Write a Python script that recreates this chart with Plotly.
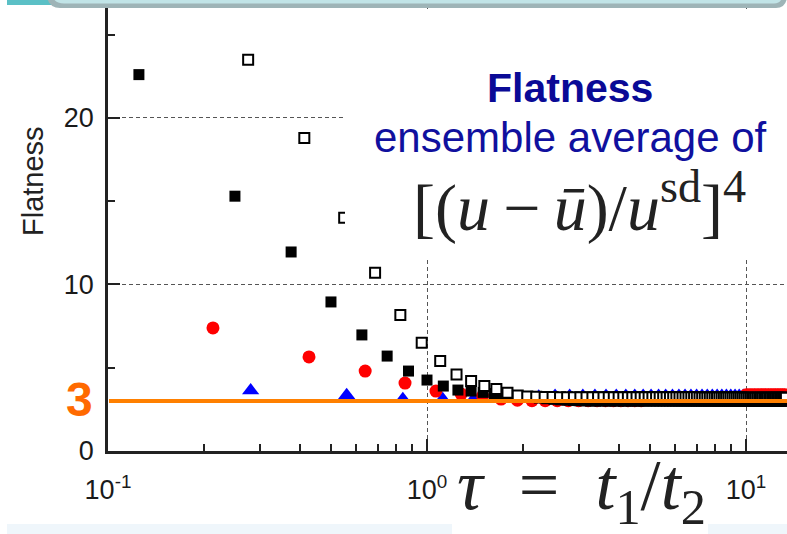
import plotly.graph_objects as go

# ---------------- data ----------------
# sampling steps of tau for each series (tau_k = step * k)
STEP_FILLED, K_FILLED = 0.125, range(1, 108)
STEP_OPEN, K_OPEN = 0.1375, range(2, 98)
STEP_RED, K_RED = 0.21333, range(1, 63)
STEP_BLUE, K_BLUE = 0.28, range(1, 48)

filled_y = [
    22.6, 15.3, 11.95, 8.95, 6.97, 5.7, 4.8, 4.26, 3.9, 3.66,
    3.6, 3.52, 3.45, 3.38, 3.32, 3.27, 3.22, 3.18, 3.14, 3.1,
    3.07, 3.05, 3.03, 3.02, 3.01, 3.0, 3.0, 3.0, 3.0, 3.0,
    3.0, 3.0, 3.0, 3.0, 3.0, 3.0, 3.0, 3.0, 3.0, 3.0,
    3.0, 3.0, 3.0, 3.0, 3.0, 3.0, 3.0, 3.0, 3.0, 3.0,
    3.0, 3.0, 3.0, 3.0, 3.0, 3.0, 3.0, 3.0, 3.0, 3.0,
    3.0, 3.0, 3.0, 3.0, 3.0, 3.0, 3.0, 3.0, 3.0, 3.0,
    3.0, 3.0, 3.0, 3.0, 3.0, 3.0, 3.0, 3.0, 3.0, 3.0,
    3.0, 3.0, 3.0, 3.0, 3.0, 3.0, 3.0, 3.0, 3.0, 3.0,
    3.0, 3.0, 3.0, 3.0, 3.0, 3.0, 3.0, 3.0, 3.0, 3.0,
    3.0, 3.0, 3.0, 3.0, 3.0, 3.0, 3.0,
]
open_y = [
    23.5, 18.8, 14.0, 10.7, 8.17, 6.5, 5.4, 4.6, 4.2, 3.9,
    3.72, 3.5, 3.34, 3.27, 3.25, 3.24, 3.24, 3.23, 3.23, 3.23,
    3.22, 3.22, 3.22, 3.22, 3.22, 3.22, 3.22, 3.22, 3.22, 3.22,
    3.22, 3.22, 3.22, 3.22, 3.22, 3.22, 3.22, 3.22, 3.22, 3.22,
    3.22, 3.22, 3.22, 3.22, 3.22, 3.22, 3.22, 3.22, 3.22, 3.22,
    3.21, 3.21, 3.21, 3.21, 3.21, 3.21, 3.21, 3.21, 3.21, 3.21,
    3.21, 3.21, 3.21, 3.21, 3.21, 3.21, 3.21, 3.21, 3.21, 3.21,
    3.2, 3.2, 3.2, 3.2, 3.2, 3.2, 3.2, 3.2, 3.2, 3.2,
    3.2, 3.2, 3.2, 3.2, 3.2, 3.2, 3.2, 3.2, 3.2, 3.2,
    3.2, 3.2, 3.2, 3.2, 3.2, 3.2,
]
red_y = [
    7.39, 5.65, 4.8, 4.08, 3.6, 3.42, 3.3, 3.12, 3.05, 3.02,
    3.02, 3.02, 3.02, 3.02, 3.02, 3.02, 3.02, 3.02, 3.02, 3.02,
    3.02, 3.02, 3.1, 3.1, 3.1, 3.1, 3.1, 3.1, 3.1, 3.1,
    3.1, 3.1, 3.1, 3.1, 3.1, 3.1, 3.1, 3.1, 3.1, 3.1,
    3.1, 3.1, 3.1, 3.1, 3.1, 3.1, 3.38, 3.38, 3.38, 3.38,
    3.38, 3.38, 3.38, 3.38, 3.38, 3.38, 3.38, 3.38, 3.38, 3.38,
    3.38, 3.38,
]
blue_y = [
    3.63, 3.35, 3.1, 3.1, 3.1, 3.1, 3.15, 3.25, 3.3, 3.3,
    3.3, 3.3, 3.3, 3.3, 3.3, 3.3, 3.3, 3.3, 3.3, 3.3,
    3.3, 3.3, 3.3, 3.3, 3.3, 3.3, 3.3, 3.3, 3.3, 3.3,
    3.3, 3.3, 3.3, 3.3, 3.3, 3.3, 3.3, 3.3, 3.3, 3.3,
    3.3, 3.3, 3.3, 3.3, 3.3, 3.3, 3.3,
]
GAUSSIAN_FLATNESS = 3

x_tickvals = [0.1, 1, 10]
x_ticktext = ["10<sup>-1</sup>", "10<sup>0</sup>", "10<sup>1</sup>"]
x_minor = [0.2, 0.3, 0.4, 0.5, 0.6, 0.7, 0.8, 0.9, 2, 3, 4, 5, 6, 7, 8, 9]
y_tickvals = [0, 10, 20]
y_ticktext = ["0", "10", "20"]
y_minor = [5, 15, 25]

tau_filled = [round(STEP_FILLED * k, 5) for k in K_FILLED]
tau_open = [round(STEP_OPEN * k, 5) for k in K_OPEN]
tau_red = [round(STEP_RED * k, 5) for k in K_RED]
tau_blue = [round(STEP_BLUE * k, 5) for k in K_BLUE]

# ---------------- figure ----------------
W, H = 787, 534
def px(x):
    return x / W
def py(y):
    return 1 - y / H

SANS = "Liberation Sans, Arial, sans-serif"
SERIF = "Liberation Serif, Times New Roman, serif"

fig = go.Figure()
fig.add_trace(go.Scatter(x=tau_blue, y=blue_y, mode="markers",
                         marker=dict(symbol="triangle-up", size=15, color="#0000ff", line=dict(width=0))))
fig.add_trace(go.Scatter(x=tau_red, y=red_y, mode="markers",
                         marker=dict(symbol="circle", size=13, color="#ff0000", line=dict(width=0))))
fig.add_trace(go.Scatter(x=tau_filled, y=filled_y, mode="markers",
                         marker=dict(symbol="square", size=11, color="#000000", line=dict(width=0))))
fig.add_trace(go.Scatter(x=tau_open, y=open_y, mode="markers",
                         marker=dict(symbol="square", size=10, color="#ffffff",
                                     line=dict(width=2, color="#000000"))))

shapes = []
# Gaussian reference level
shapes.append(dict(type="line", xref="paper", yref="y", x0=px(109), x1=1,
                   y0=GAUSSIAN_FLATNESS, y1=GAUSSIAN_FLATNESS,
                   line=dict(color="#ff8000", width=4), layer="above"))
# white text panel covering upper-right
shapes.append(dict(type="rect", xref="paper", yref="paper", x0=px(345), x1=px(790), y0=py(258), y1=py(9),
                   fillcolor="#ffffff", line=dict(width=0), layer="above"))
# bottom faint strip
for a, b in [(7, 452), (708, 790)]:
    shapes.append(dict(type="rect", xref="paper", yref="paper", x0=px(a), x1=px(b), y0=py(536), y1=py(524),
                       fillcolor="#eff6fb", line=dict(width=0), layer="above"))
# top frame
shapes.append(dict(type="rect", xref="paper", yref="paper", x0=px(7), x1=px(62), y0=py(5), y1=py(-3),
                   fillcolor="#5bc0c6", line=dict(width=0), layer="above"))

def path(points_cmd):
    out = []
    for cmd, pts in points_cmd:
        coords = " ".join(f"{px(x):.5f},{py(y):.5f}" for x, y in pts)
        out.append(f"{cmd} {coords}")
    return " ".join(out) + " Z"

shapes.append(dict(type="path", xref="paper", yref="paper", layer="above",
                   path=path([("M", [(47, -3)]), ("Q", [(49, 8), (60, 8)]), ("L", [(776, 8)]),
                              ("Q", [(786, 8), (787, -3)])]),
                   fillcolor="#9eb4b7", line=dict(width=0)))
shapes.append(dict(type="path", xref="paper", yref="paper", layer="above",
                   path=path([("M", [(53, -3)]), ("Q", [(55, 3.5), (64, 3.5)]), ("L", [(774, 3.5)]),
                              ("Q", [(781, 3.5), (782, -3)])]),
                   fillcolor="#c1e4e7", line=dict(width=0)))

ann = []
ann.append(dict(text="Flatness", x=px(33), y=py(181), textangle=-90,
                font=dict(family=SANS, size=29, color="#222222")))
ann.append(dict(text="<b>3</b>", x=px(79), y=py(399),
                font=dict(family=SANS, size=48, color="#ff6a00")))
ann.append(dict(text="<b>Flatness</b>", x=px(570), y=py(88),
                font=dict(family=SANS, size=41, color="#0a0a96")))
ann.append(dict(text="ensemble average of", x=px(570), y=py(137),
                font=dict(family=SANS, size=42, color="#10109e")))
ann.append(dict(text="[(<i>u</i>\u2009\u2212\u2009<i>\u016b</i>)/<i>u</i><sup>sd</sup>]<sup>4</sup>",
                x=px(579), y=py(203), font=dict(family=SERIF, size=66, color="#222222")))
ann.append(dict(text="<i>\u03c4</i>\u2002=\u2002<i>t</i><sub>1</sub>/<i>t</i><sub>2</sub>",
                x=px(581), y=py(490), font=dict(family=SERIF, size=72, color="#222222")))
for a in ann:
    a.update(xref="paper", yref="paper", showarrow=False, xanchor="center", yanchor="middle")

fig.update_layout(
    width=W, height=H, margin=dict(l=0, r=0, t=0, b=0, pad=0),
    paper_bgcolor="#ffffff", plot_bgcolor="#ffffff", showlegend=False,
    shapes=shapes, annotations=ann,
    xaxis=dict(type="log", range=[-1, 1.1285], domain=[px(108), 1], automargin=False,
               tickvals=x_tickvals, ticktext=x_ticktext, ticks="inside", ticklen=12, tickwidth=2,
               tickcolor="#222222", showline=True, linecolor="#222222", linewidth=2.5,
               showgrid=True, gridcolor="#555555", gridwidth=1, griddash="4px,3px", zeroline=False,
               minor=dict(tickvals=x_minor, ticks="inside", ticklen=7, tickwidth=1.5,
                          tickcolor="#222222", showgrid=False),
               tickfont=dict(family=SANS, size=27, color="#1a1a1a"), ticklabelstandoff=13),
    yaxis=dict(range=[0, 26.6], domain=[py(451), py(8)], automargin=False,
               tickvals=y_tickvals, ticktext=y_ticktext, ticks="inside", ticklen=12, tickwidth=2,
               tickcolor="#222222", showline=True, linecolor="#222222", linewidth=2.5,
               showgrid=True, gridcolor="#555555", gridwidth=1, griddash="4px,3px", zeroline=False,
               minor=dict(tickvals=y_minor, ticks="inside", ticklen=7, tickwidth=1.5,
                          tickcolor="#222222", showgrid=False),
               tickfont=dict(family=SANS, size=27, color="#1a1a1a"), ticklabelstandoff=6),
)

fig.write_html("out.html")
